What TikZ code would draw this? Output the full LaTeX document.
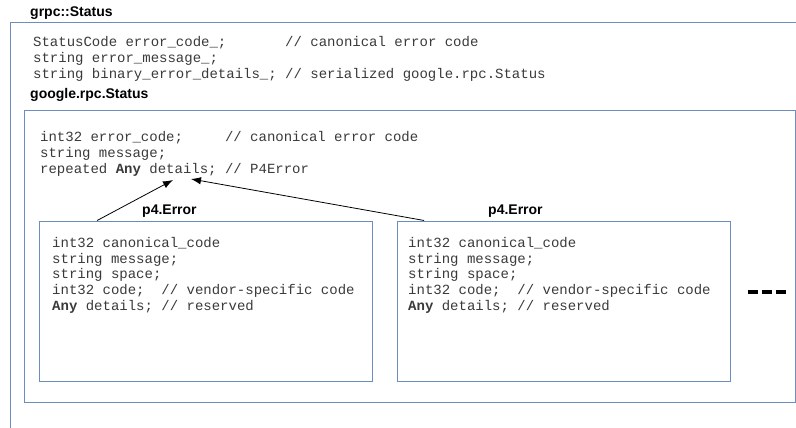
\documentclass[tikz,border=0pt]{standalone}
\usepackage{fontspec}
\setmainfont{Liberation Sans}
\setmonofont{Liberation Mono}
\usetikzlibrary{positioning,calc,arrows.meta}
\definecolor{boxblue}{HTML}{6C8EBF}
\definecolor{codegray}{HTML}{3A3A3A}

\begin{document}
\begin{tikzpicture}[x=1pt, y=-1pt, node distance=24pt]
    \tikzstyle{frame} = [rectangle, draw=boxblue, line width=1.1pt, inner sep=0pt, anchor=north west]
    \tikzstyle{code} = [anchor=base west, align=left, inner sep=0pt, text=codegray, font=\ttfamily\fontsize{14}{15.8}\selectfont\frenchspacing]
    \tikzstyle{title} = [anchor=base west, inner sep=0pt, font=\bfseries\fontsize{14}{16}\selectfont]
    \tikzstyle{arrow} = [draw, -{Latex[length=10pt, width=7.5pt]}, line width=0.8pt]

    \useasboundingbox (0,0) rectangle (796,428);
    \clip (0,0) rectangle (796,428);

    % grpc::Status (base = last line)
    \node[frame, minimum width=800pt, minimum height=420pt] (grpc) at (10,22) {};
    \node[title] (grpctitle) at (30,17) {grpc::Status};
    \node[code] (grpccode) at (33,78.1) {StatusCode error\_code\_;~~~~~~~// canonical error code\\
        string error\_message\_;\\
        string binary\_error\_details\_; // serialized google.rpc.Status};

    % google.rpc.Status
    \node[frame, minimum width=771pt, minimum height=292pt] (google) at (24,110) {};
    \node[title] (googletitle) at (30,99) {google.rpc.Status};
    \node[code] (googlecode) at (40,173.1) {int32 error\_code;~~~~~// canonical error code\\
        string message;\\
        repeated \textbf{Any} details; // P4Error};

    % p4.Error
    \node[frame, minimum width=333pt, minimum height=160pt] (errA) at (39,220.5) {};
    \node[frame, minimum width=333pt, minimum height=160pt, right=of errA] (errB) {};
    \node[title] (errAtitle) at (142,214.5) {p4.Error};
    \node[title] (errBtitle) at (488,214.5) {p4.Error};
    \node[code] (errAcode) at (52,310.5) {int32 canonical\_code\\
        string message;\\
        string space;\\
        int32 code;~~// vendor-specific code\\
        \textbf{Any} details; // reserved};
    \node[code] (errBcode) at (408,310.5) {int32 canonical\_code\\
        string message;\\
        string space;\\
        int32 code;~~// vendor-specific code\\
        \textbf{Any} details; // reserved};

    % more errors
    \draw[line width=4.5pt, dash pattern=on 10pt off 4pt] ([xshift=16.5pt, yshift=9pt]errB.east) -- ++(38.5,0);

    % Arrows
    \coordinate (anyL) at (173,180);
    \coordinate (anyR) at (191,179);
    \draw[arrow] ($(errA.north west)!0.174!(errA.north east)$) -- (anyL);
    \draw[arrow] ($(errB.north west)!0.081!(errB.north east)$) -- (anyR);
\end{tikzpicture}
\end{document}
